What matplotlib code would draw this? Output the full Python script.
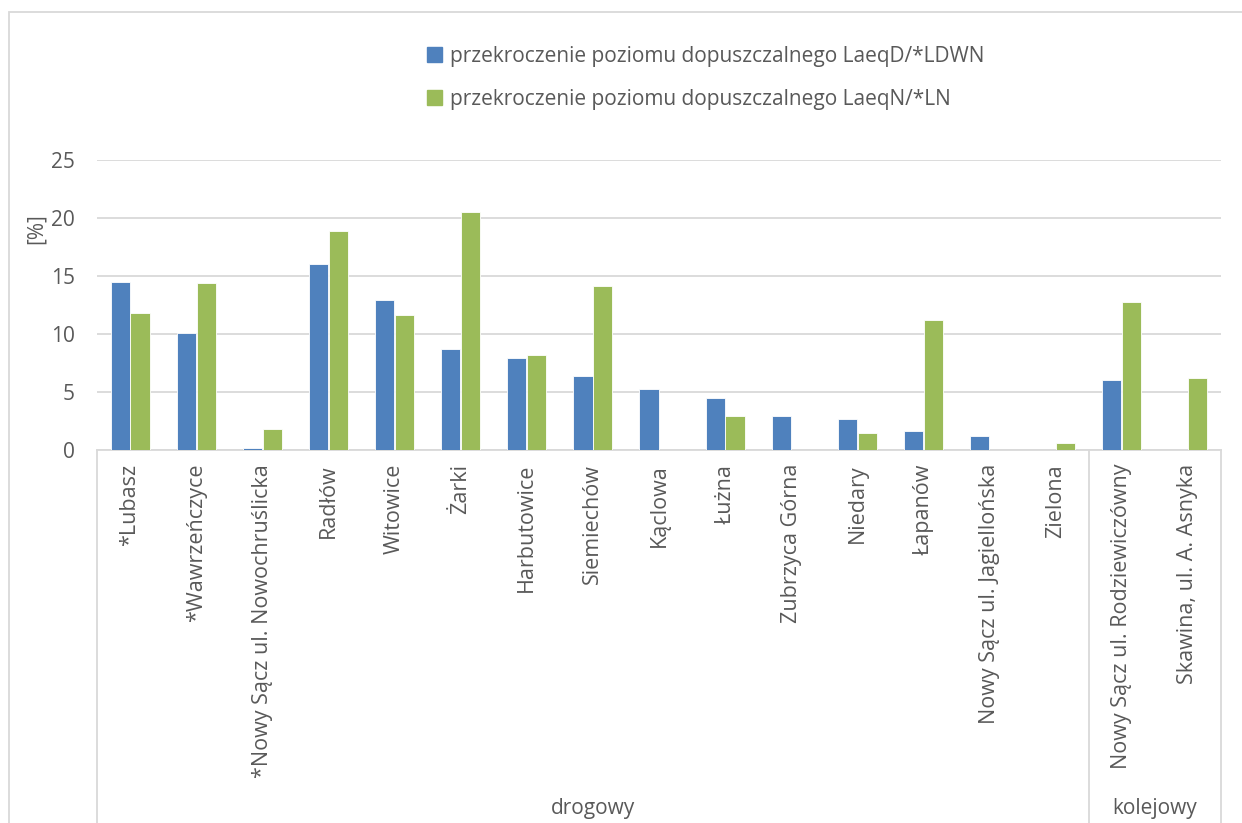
import numpy as np
import matplotlib
matplotlib.use("Agg")
import matplotlib.pyplot as plt
from matplotlib.patches import Patch, Rectangle

plt.rcParams['font.family'] = ['Open Sans', 'DejaVu Sans']

locations = ['*Lubasz', '*Wawrzeńczyce', '*Nowy Sącz ul. Nowochruślicka', 'Radłów',
             'Witowice', 'Żarki', 'Harbutowice', 'Siemiechów', 'Kąclowa', 'Łużna',
             'Zubrzyca Górna', 'Niedary', 'Łapanów', 'Nowy Sącz ul. Jagiellońska',
             'Zielona', 'Nowy Sącz ul. Rodziewiczówny', 'Skawina, ul. A. Asnyka']
day_exceed = [14.5, 10.1, 0.2, 16.0, 12.9, 8.7, 7.9, 6.4, 5.3, 4.5,
              2.9, 2.7, 1.6, 1.2, 0.0, 6.0, 0.0]
night_exceed = [11.8, 14.4, 1.8, 18.9, 11.6, 20.5, 8.2, 14.1, 0.0, 2.9,
                0.0, 1.5, 11.2, 0.0, 0.6, 12.8, 6.2]
groups = ['drogowy', 'kolejowy']
group_sizes = [15, 2]
series_labels = ['przekroczenie poziomu dopuszczalnego LaeqD/*LDWN',
                 'przekroczenie poziomu dopuszczalnego LaeqN/*LN']

blue = '#4F81BD'
green = '#9BBB59'
grid_col = '#D9D9D9'
text_col = '#595959'

W, H = 1242, 823
fig = plt.figure(figsize=(W / 100, H / 100), dpi=100)

# plot area in pixels
x0, x1, y_top, y_bot = 97, 1221, 160, 450
ax = fig.add_axes([x0 / W, 1 - y_bot / H, (x1 - x0) / W, (y_bot - y_top) / H])

x = np.arange(len(locations))
bw = 0.29
ax.bar(x - bw / 2 - 0.005, day_exceed, bw, color=blue, edgecolor='white', linewidth=0.6, zorder=3)
ax.bar(x + bw / 2 + 0.005, night_exceed, bw, color=green, edgecolor='white', linewidth=0.6, zorder=3)

ax.set_xlim(-0.5, len(locations) - 0.5)
ax.set_ylim(0, 25)
ax.set_yticks(range(0, 26, 5))
ax.yaxis.grid(True, color=grid_col, linewidth=1.3, zorder=0)
ax.tick_params(axis='y', length=0, pad=16, labelsize=15, labelcolor=text_col)
ax.tick_params(axis='x', length=0, pad=10, labelsize=15.5, labelcolor=text_col)
ax.set_xticks(x)
ax.set_xticklabels(locations, rotation=90, va='top', ha='center')
for s in ['top', 'right', 'left']:
    ax.spines[s].set_visible(False)
ax.spines['bottom'].set_color(grid_col)
ax.spines['bottom'].set_linewidth(1.3)

ax.text(-0.054, 0.765, '[%]', transform=ax.transAxes, rotation=90, fontsize=15,
        color=text_col, ha='center', va='center')

# category group separators and names
edges = np.concatenate([[0], np.cumsum(group_sizes)]) - 0.5
trans = ax.get_xaxis_transform()
for e in edges:
    ax.plot([e, e], [0, -1.4], transform=trans, color=grid_col, linewidth=1.3, clip_on=False)
for g, a, b in zip(groups, edges[:-1], edges[1:]):
    ax.text((a + b) / 2, -(808 - y_bot) / (y_bot - y_top), g, transform=trans,
            ha='center', va='center', fontsize=15, color=text_col)

# outer chart border
fig.patches.append(Rectangle((9 / W, -0.1), 1.2, 1.1 - 12 / H, transform=fig.transFigure,
                             fill=False, edgecolor=grid_col, linewidth=1.3))

handles = [Patch(color=blue), Patch(color=green)]
fig.legend(handles, series_labels, loc='upper left', bbox_to_anchor=(408 / W, 1 - 27 / H),
           frameon=False, fontsize=15, handlelength=0.75, handleheight=0.75,
           handletextpad=0.35, labelspacing=1.05, labelcolor=text_col)

fig.savefig('out.png', dpi=100, facecolor='white')
